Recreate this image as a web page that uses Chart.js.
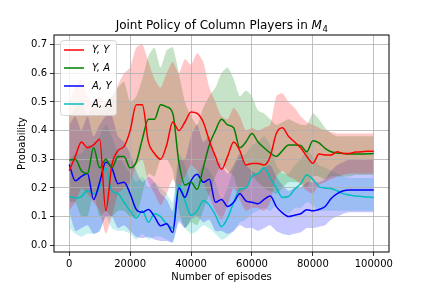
<!DOCTYPE html>
<html>
<head>
<meta charset="utf-8">
<script src="https://cdn.jsdelivr.net/npm/chart.js@4.4.0/dist/chart.umd.min.js"></script>
<style>
    html, body { margin: 0; padding: 0; background: #fff; }
    #wrap { width: 432px; height: 288px; }
</style>
</head>
<body>
<div id="wrap"><canvas id="chart" width="432" height="288"></canvas></div>
<script>
// Episodios (eje x)
const episodes = [0, 2000, 4000, 6000, 8000, 10000, 12000, 14000, 16000, 18000,
    20000, 22000, 24000, 26000, 28000, 30000, 32000, 34000, 36000, 38000,
    40000, 42000, 44000, 46000, 48000, 50000, 52000, 54000, 56000, 58000,
    60000, 62000, 64000, 66000, 68000, 70000, 72000, 74000, 76000, 78000,
    80000, 82000, 84000, 86000, 88000, 90000, 92000, 94000, 96000, 98000, 100000];

const xTicks = [0, 20000, 40000, 60000, 80000, 100000];
const yTicks = [0.0, 0.1, 0.2, 0.3, 0.4, 0.5, 0.6, 0.7];
const labels = ['Y, Y', 'Y, A', 'A, Y', 'A, A'];

// Medias
const yy = [0.26, 0.31, 0.36, 0.34, 0.35, 0.37, 0.12, 0.28, 0.33, 0.345,
    0.40, 0.49, 0.49, 0.36, 0.32, 0.30, 0.35, 0.43, 0.40, 0.43,
    0.465, 0.46, 0.43, 0.365, 0.31, 0.265, 0.31, 0.36, 0.33, 0.28,
    0.285, 0.285, 0.28, 0.31, 0.39, 0.41, 0.38, 0.36, 0.34, 0.31,
    0.286, 0.318, 0.315, 0.315, 0.326, 0.32, 0.32, 0.325, 0.326, 0.328, 0.328];
const ya = [0.297, 0.30, 0.26, 0.25, 0.34, 0.27, 0.30, 0.27, 0.31, 0.31,
    0.27, 0.29, 0.37, 0.44, 0.44, 0.49, 0.483, 0.46, 0.29, 0.21,
    0.22, 0.195, 0.27, 0.35, 0.40, 0.44, 0.42, 0.41, 0.34, 0.36,
    0.39, 0.36, 0.34, 0.322, 0.31, 0.33, 0.35, 0.35, 0.348, 0.326,
    0.365, 0.357, 0.338, 0.326, 0.322, 0.32, 0.318, 0.318, 0.318, 0.319, 0.32];
const ay = [0.282, 0.225, 0.24, 0.25, 0.16, 0.22, 0.29, 0.27, 0.215, 0.22,
    0.18, 0.125, 0.115, 0.125, 0.10, 0.068, 0.075, 0.045, 0.20, 0.167,
    0.225, 0.248, 0.22, 0.23, 0.15, 0.16, 0.135, 0.15, 0.18, 0.155,
    0.15, 0.145, 0.16, 0.172, 0.135, 0.113, 0.10, 0.105, 0.11, 0.124,
    0.12, 0.125, 0.135, 0.163, 0.18, 0.19, 0.193, 0.193, 0.193, 0.193, 0.193];
const aa = [0.17, 0.165, 0.17, 0.19, 0.18, 0.20, 0.27, 0.19, 0.18, 0.15,
    0.12, 0.095, 0.12, 0.08, 0.11, 0.10, 0.074, 0.06, 0.21, 0.155,
    0.105, 0.12, 0.155, 0.14, 0.105, 0.065, 0.095, 0.15, 0.195, 0.20,
    0.24, 0.25, 0.27, 0.235, 0.20, 0.167, 0.17, 0.195, 0.215, 0.245,
    0.23, 0.205, 0.20, 0.198, 0.19, 0.18, 0.175, 0.172, 0.17, 0.168, 0.167];

// Bandas (superior / inferior)
const yyHi = [0.50, 0.55, 0.58, 0.52, 0.50, 0.52, 0.50, 0.52, 0.56, 0.60,
    0.62, 0.69, 0.70, 0.64, 0.58, 0.55, 0.60, 0.64, 0.60, 0.65,
    0.63, 0.67, 0.64, 0.55, 0.50, 0.45, 0.44, 0.48, 0.45, 0.40,
    0.41, 0.40, 0.41, 0.42, 0.52, 0.53, 0.50, 0.48, 0.45, 0.43,
    0.42, 0.41, 0.40, 0.395, 0.39, 0.39, 0.39, 0.39, 0.39, 0.39, 0.39];
const yyLo = [0.12, 0.15, 0.20, 0.18, 0.15, 0.12, 0.04, 0.10, 0.18, 0.20,
    0.22, 0.28, 0.30, 0.22, 0.18, 0.14, 0.18, 0.23, 0.20, 0.24,
    0.28, 0.26, 0.22, 0.17, 0.12, 0.09, 0.14, 0.20, 0.16, 0.12,
    0.13, 0.13, 0.12, 0.15, 0.24, 0.26, 0.24, 0.23, 0.21, 0.19,
    0.18, 0.21, 0.22, 0.23, 0.24, 0.245, 0.25, 0.25, 0.25, 0.25, 0.25];
const yaHi = [0.45, 0.48, 0.50, 0.45, 0.50, 0.48, 0.50, 0.52, 0.55, 0.57,
    0.50, 0.52, 0.58, 0.66, 0.69, 0.62, 0.68, 0.69, 0.60, 0.50,
    0.45, 0.42, 0.48, 0.52, 0.55, 0.60, 0.62, 0.58, 0.52, 0.54,
    0.52, 0.47, 0.46, 0.44, 0.42, 0.43, 0.44, 0.43, 0.42, 0.42,
    0.46, 0.44, 0.41, 0.39, 0.38, 0.38, 0.38, 0.38, 0.38, 0.38, 0.38];
const yaLo = [0.15, 0.15, 0.10, 0.10, 0.18, 0.10, 0.12, 0.10, 0.12, 0.12,
    0.10, 0.10, 0.18, 0.25, 0.24, 0.30, 0.30, 0.26, 0.12, 0.06,
    0.08, 0.07, 0.12, 0.18, 0.24, 0.28, 0.26, 0.24, 0.18, 0.20,
    0.24, 0.22, 0.20, 0.19, 0.18, 0.20, 0.22, 0.22, 0.22, 0.20,
    0.24, 0.24, 0.23, 0.24, 0.24, 0.24, 0.24, 0.245, 0.245, 0.245, 0.245];
const ayHi = [0.42, 0.45, 0.40, 0.45, 0.38, 0.42, 0.45, 0.45, 0.38, 0.36,
    0.32, 0.26, 0.22, 0.24, 0.22, 0.18, 0.16, 0.12, 0.30, 0.30,
    0.38, 0.42, 0.36, 0.38, 0.30, 0.28, 0.25, 0.28, 0.32, 0.28,
    0.26, 0.25, 0.27, 0.28, 0.24, 0.21, 0.19, 0.20, 0.20, 0.22,
    0.22, 0.22, 0.23, 0.26, 0.28, 0.29, 0.30, 0.30, 0.30, 0.30, 0.30];
const ayLo = [0.12, 0.05, 0.06, 0.07, 0.04, 0.05, 0.10, 0.10, 0.06, 0.07,
    0.05, 0.03, 0.025, 0.03, 0.02, 0.015, 0.015, 0.01, 0.08, 0.06,
    0.09, 0.10, 0.08, 0.09, 0.05, 0.05, 0.04, 0.05, 0.07, 0.06,
    0.06, 0.05, 0.06, 0.07, 0.05, 0.04, 0.035, 0.04, 0.045, 0.06,
    0.06, 0.065, 0.07, 0.09, 0.10, 0.11, 0.115, 0.115, 0.115, 0.115, 0.115];
const aaHi = [0.30, 0.32, 0.32, 0.35, 0.35, 0.38, 0.42, 0.38, 0.32, 0.28,
    0.25, 0.22, 0.24, 0.20, 0.22, 0.20, 0.18, 0.15, 0.32, 0.28,
    0.22, 0.24, 0.28, 0.26, 0.22, 0.16, 0.20, 0.27, 0.31, 0.32,
    0.35, 0.36, 0.38, 0.35, 0.28, 0.25, 0.25, 0.28, 0.30, 0.33,
    0.31, 0.28, 0.27, 0.26, 0.25, 0.24, 0.235, 0.235, 0.235, 0.235, 0.235];
const aaLo = [0.06, 0.04, 0.03, 0.04, 0.04, 0.05, 0.10, 0.06, 0.05, 0.05,
    0.04, 0.02, 0.04, 0.02, 0.03, 0.03, 0.02, 0.01, 0.09, 0.06,
    0.04, 0.05, 0.07, 0.06, 0.04, 0.02, 0.03, 0.05, 0.08, 0.09,
    0.11, 0.12, 0.13, 0.12, 0.14, 0.12, 0.11, 0.13, 0.13, 0.15,
    0.14, 0.12, 0.12, 0.12, 0.12, 0.12, 0.12, 0.12, 0.12, 0.12, 0.12];

const FONT = "'DejaVu Sans', sans-serif";
const colores = ['#ff0000', '#008000', '#0000ff', '#00bfbf'];
const rellenos = ['rgba(255,0,0,0.22)', 'rgba(0,128,0,0.22)', 'rgba(0,0,255,0.22)', 'rgba(0,191,191,0.22)'];

function puntos(arr) {
    return episodes.map((x, i) => ({ x: x, y: arr[i] }));
}

// Construir datasets: banda superior (fill hasta la siguiente), banda inferior, linea
const medias = [yy, ya, ay, aa];
const altos = [yyHi, yaHi, ayHi, aaHi];
const bajos = [yyLo, yaLo, ayLo, aaLo];
const datasets = [];
for (let i = 0; i < 4; i++) {
    datasets.push({
        label: 'hi' + i, data: puntos(altos[i]), borderWidth: 0, pointRadius: 0,
        backgroundColor: rellenos[i], fill: '+1', tension: 0.2
    });
    datasets.push({
        label: 'lo' + i, data: puntos(bajos[i]), borderWidth: 0, pointRadius: 0,
        fill: false, tension: 0.2
    });
}
for (let i = 0; i < 4; i++) {
    datasets.push({
        label: labels[i], data: puntos(medias[i]), borderColor: colores[i], borderWidth: 1.5,
        pointRadius: 0, fill: false, cubicInterpolationMode: 'monotone'
    });
}

// Titulo, marco y leyenda
const decor = {
    id: 'decor',
    afterDraw(chart) {
        const ctx = chart.ctx;
        const a = chart.chartArea;
        ctx.save();
        ctx.strokeStyle = '#000';
        ctx.lineWidth = 1;
        ctx.strokeRect(a.left, a.top, a.right - a.left, a.bottom - a.top);

        // titulo
        const cx = (a.left + a.right) / 2;
        const parte1 = 'Joint Policy of Column Players in ';
        ctx.fillStyle = '#000';
        ctx.textBaseline = 'alphabetic';
        ctx.font = '12px ' + FONT;
        const w1 = ctx.measureText(parte1).width;
        ctx.font = 'italic 12px ' + FONT;
        const w2 = ctx.measureText('M').width;
        ctx.font = '8.5px ' + FONT;
        const w3 = ctx.measureText('4').width;
        let x0 = cx - (w1 + w2 + w3) / 2;
        ctx.font = '12px ' + FONT;
        ctx.fillText(parte1, x0, 29);
        ctx.font = 'italic 12px ' + FONT;
        ctx.fillText('M', x0 + w1, 29);
        ctx.font = '8.5px ' + FONT;
        ctx.fillText('4', x0 + w1 + w2 + 0.5, 31.5);

        // leyenda
        const bx = 60, by = 40, bw = 56, bh = 75;
        ctx.beginPath();
        ctx.roundRect(bx + 0.5, by + 0.5, bw, bh, 3);
        ctx.fillStyle = 'rgba(255,255,255,0.8)';
        ctx.fill();
        ctx.strokeStyle = 'rgba(204,204,204,0.8)';
        ctx.stroke();
        ctx.font = 'italic 10px ' + FONT;
        ctx.textBaseline = 'middle';
        labels.forEach((t, i) => {
            const y = 50 + i * 18;
            ctx.strokeStyle = colores[i];
            ctx.lineWidth = 1.5;
            ctx.beginPath();
            ctx.moveTo(64, y);
            ctx.lineTo(84, y);
            ctx.stroke();
            ctx.fillStyle = '#000';
            ctx.fillText(t, 92, y);
        });
        ctx.restore();
    }
};

const ctx = document.getElementById('chart').getContext('2d');
new Chart(ctx, {
    type: 'line',
    data: { datasets: datasets },
    plugins: [decor],
    options: {
        responsive: false,
        animation: false,
        devicePixelRatio: 1,
        layout: { padding: { top: 35, right: 43, left: 0, bottom: 0 } },
        plugins: {
            legend: { display: false },
            title: { display: false },
            tooltip: { enabled: false },
            filler: { drawTime: 'beforeDraw', propagate: false }
        },
        scales: {
            x: {
                type: 'linear',
                min: -5000,
                max: 105000,
                afterBuildTicks: (s) => { s.ticks = xTicks.map(v => ({ value: v })); },
                afterFit: (s) => { s.height = 36; },
                grid: { color: '#b0b0b0', lineWidth: 0.8, tickLength: 4, tickColor: '#000' },
                border: { display: false },
                ticks: {
                    color: '#000', font: { family: FONT, size: 10 }, padding: 2, maxRotation: 0,
                    callback: (v) => String(v)
                },
                title: {
                    display: true, text: 'Number of episodes', color: '#000',
                    font: { family: FONT, size: 10 }, padding: { top: 0, bottom: 5 }
                }
            },
            y: {
                type: 'linear',
                min: -0.0235,
                max: 0.7335,
                afterBuildTicks: (s) => { s.ticks = yTicks.map(v => ({ value: v })); },
                afterFit: (s) => { s.width = 54; },
                grid: { color: '#b0b0b0', lineWidth: 0.8, tickLength: 4, tickColor: '#000' },
                border: { display: false },
                ticks: {
                    color: '#000', font: { family: FONT, size: 10 }, padding: 3,
                    callback: (v) => v.toFixed(1)
                },
                title: {
                    display: true, text: 'Probability', color: '#000',
                    font: { family: FONT, size: 10 }, padding: { top: 16, bottom: 0 }
                }
            }
        }
    }
});
</script>
</body>
</html>
